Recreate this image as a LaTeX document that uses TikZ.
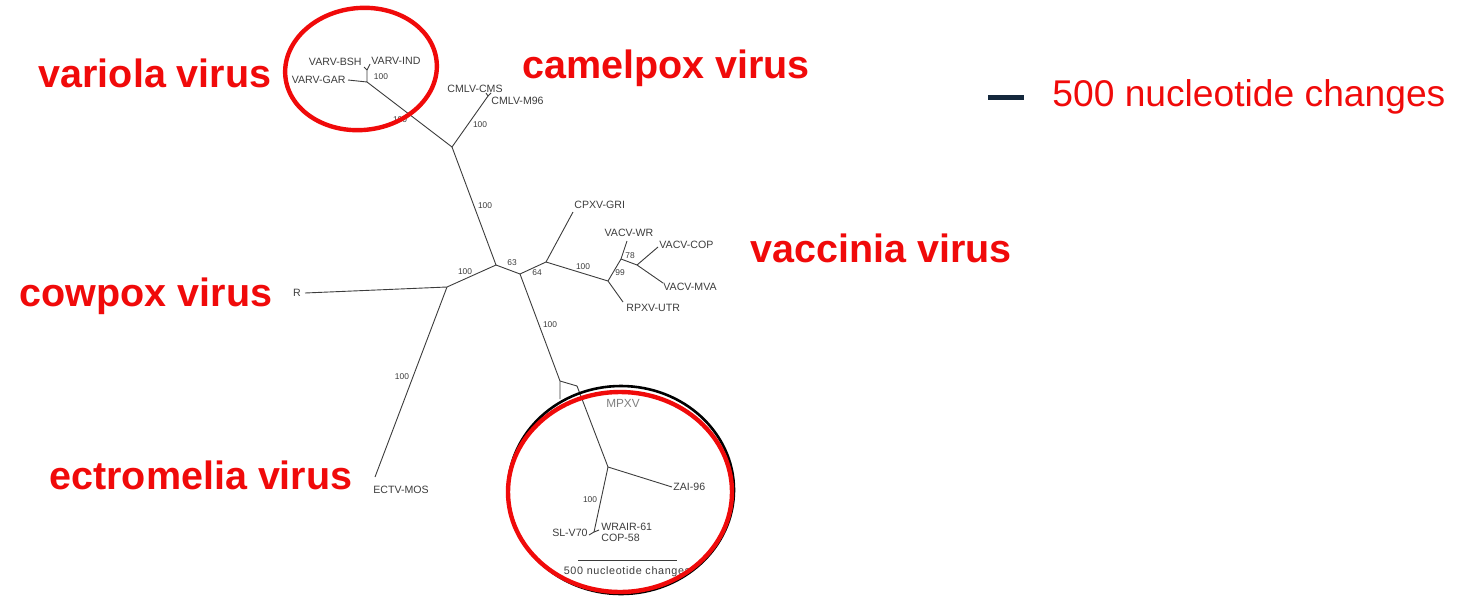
\documentclass[tikz,border=0pt]{standalone}
\usepackage{fontspec}
\setmainfont{Liberation Sans}
\usepackage{tikz}
\usetikzlibrary{calc, positioning}
\usepackage{xcolor}
\definecolor{virusred}{RGB}{240,10,10}
\definecolor{treegray}{RGB}{60,60,60}
\definecolor{legendnavy}{RGB}{20,40,60}

\begin{document}
\begin{tikzpicture}[x=0.5pt, y=-0.5pt,
    branch/.style={draw=treegray, line width=0.45pt},
    leaf/.style={inner sep=0pt, text=treegray, font=\fontsize{5.3}{6}\selectfont},
    boot/.style={inner sep=0pt, text=treegray, font=\fontsize{4.2}{5}\selectfont},
    virus/.style={inner sep=0pt, text=virusred, font=\fontsize{19.75}{22}\selectfont\bfseries},
    ring/.style={draw=virusred, line width=2.2pt}]
  \useasboundingbox (0,0) rectangle (1470,595);

  % internal nodes of the tree
  \coordinate (varvA) at (367,82);
  \coordinate (varvB) at (367,70);
  \coordinate (cmlvJ) at (452,147);
  \coordinate (cmlvT) at (488,96);
  \coordinate (rootA) at (496,265);
  \coordinate (rootB) at (447,287);
  \coordinate (rootC) at (520,274);
  \coordinate (cpxvJ) at (546,262);
  \coordinate (vacvA) at (608,281);
  \coordinate (vacvB) at (621,259);
  \coordinate (vacvC) at (637,265);
  \coordinate (mpxvA) at (560,381);
  \coordinate (mpxvB) at (577,386);
  \coordinate (mpxvC) at (608,467);
  \coordinate (mpxvD) at (594,532);

  % leaf ends
  \coordinate (bshE) at (364,67);
  \coordinate (indE) at (370,64);
  \coordinate (garE) at (348,80);
  \coordinate (cmsE) at (486,93);
  \coordinate (m96E) at (491,93);
  \coordinate (grlE) at (573,212);
  \coordinate (wrE) at (627,241);
  \coordinate (copE) at (658,247);
  \coordinate (mvaE) at (663,283);
  \coordinate (utrE) at (623,302);
  \coordinate (rE) at (305,293);
  \coordinate (mosE) at (375,477);
  \coordinate (mpxvS) at (560,399);
  \coordinate (zaiE) at (672,487);
  \coordinate (slE) at (589,535);
  \coordinate (wraE) at (599,530);
  \coordinate (barL) at (578,560);
  \coordinate (barR) at (677,560);

  % branches
  \draw[branch] (garE) -- (varvA) -- (varvB) -- (bshE);
  \draw[branch] (varvB) -- (indE);
  \draw[branch] (varvA) -- (cmlvJ) -- (cmlvT) -- (cmsE);
  \draw[branch] (cmlvT) -- (m96E);
  \draw[branch] (cmlvJ) -- (rootA) -- (rootB) -- (rE);
  \draw[branch] (rootB) -- (mosE);
  \draw[branch] (rootA) -- (rootC) -- (cpxvJ) -- (grlE);
  \draw[branch] (cpxvJ) -- (vacvA) -- (utrE);
  \draw[branch] (vacvA) -- (vacvB) -- (wrE);
  \draw[branch] (vacvB) -- (vacvC) -- (copE);
  \draw[branch] (vacvC) -- (mvaE);
  \draw[branch] (rootC) -- (mpxvA) -- (mpxvS);
  \draw[branch] (mpxvA) -- (mpxvB) -- (mpxvC) -- (zaiE);
  \draw[branch] (mpxvC) -- (mpxvD) -- (slE);
  \draw[branch] (mpxvD) -- (wraE);
  \draw[branch] (barL) -- (barR);

  % tip labels
  \node[leaf, anchor=east] (bsh) at (362,62) {VARV-BSH};
  \node[leaf, anchor=west] (ind) at (371,61) {VARV-IND};
  \node[leaf, anchor=east] (gar) at (346,80) {VARV-GAR};
  \node[leaf] (cms) at (475,89) {CMLV-CMS};
  \node[leaf, anchor=west] (m96) at (491,101) {CMLV-M96};
  \node[leaf, anchor=west] (gri) at (574,205) {CPXV-GRI};
  \node[leaf] (wr) at (629,233) {VACV-WR};
  \node[leaf, anchor=west] (cop) at (659,245) {VACV-COP};
  \node[leaf, anchor=west] (mva) at (663,287) {VACV-MVA};
  \node[leaf, anchor=west] (utr) at (626,308) {RPXV-UTR};
  \node[leaf] (r) at (297,293) {R};
  \node[leaf, anchor=west] (mos) at (373,490) {ECTV-MOS};
  \node[leaf, font=\fontsize{5.9}{7}\selectfont, text=gray] (mpxv) at (623,403) {MPXV};
  \node[leaf, anchor=west] (zai) at (673,487) {ZAI-96};
  \node[leaf, anchor=east] (slv) at (588,533) {SL-V70};
  \node[leaf, anchor=west] (wrair) at (601,527) {WRAIR-61};
  \node[leaf, anchor=west] (cop58) at (601,538) {COP-58};
  \node[leaf, font=\fontsize{5.4}{6}\selectfont\addfontfeatures{LetterSpace=6}] (bar) at (627,572) {500 nucleotide changes};

  % bootstrap values
  \node[boot] (b1) at (381,77) {100};
  \node[boot] (b2) at (400,120) {100};
  \node[boot] (b3) at (480,125) {100};
  \node[boot] (b4) at (485,206) {100};
  \node[boot] (b5) at (465,272) {100};
  \node[boot] (b6) at (512,263) {63};
  \node[boot] (b7) at (537,273) {64};
  \node[boot] (b8) at (583,267) {100};
  \node[boot] (b9) at (620,273) {99};
  \node[boot] (b10) at (630,256) {78};
  \node[boot] (b11) at (402,377) {100};
  \node[boot] (b12) at (550,325) {100};
  \node[boot] (b13) at (590,500) {100};

  % rings round two groups
  \draw[ring, rotate around={6:(361,69)}] (361,69) ellipse [x radius=76, y radius=61];
  \draw[black, line width=1.3pt] (621,490) ellipse [x radius=113, y radius=104];
  \draw[ring] (620,492) ellipse [x radius=112, y radius=100];

  % virus names
  \node[virus] (variola) at (155,73) {variola virus};
  \node[virus] (camelpox) at (666,68) {camelpox virus};
  \node[virus] (vaccinia) at (881,248) {vaccinia virus};
  \node[virus] (cowpox) at (146,296) {cowpox virus};
  \node[virus] (ectromelia) at (201,475) {ectromelia virus};

  % legend
  \coordinate (keyL) at (988,97);
  \coordinate (keyR) at (1024,97);
  \draw[legendnavy, line width=2.5pt] (keyL) -- (keyR);
  \node[anchor=west, inner sep=0pt, text=virusred, font=\fontsize{18.6}{21}\selectfont] (key) at (1052,97) {500 nucleotide changes};
\end{tikzpicture}
\end{document}
